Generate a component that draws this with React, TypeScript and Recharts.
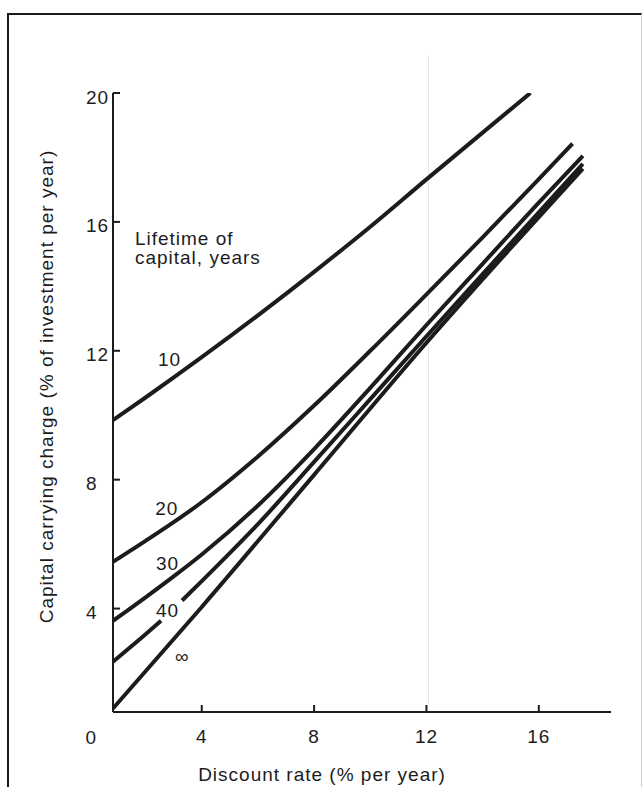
import { LineChart, Line, XAxis, YAxis, ReferenceDot } from "recharts";

const rates10 = [0.84, 2, 4, 6, 8, 10, 12, 14, 15.7];
const charge10 = [9.85, 10.55, 11.8, 13.1, 14.45, 15.85, 17.32, 18.77, 20];

const rates20 = [0.84, 2, 3, 4, 6, 8, 10, 12, 14, 16, 17.2];
const charge20 = [5.45, 6.1, 6.68, 7.3, 8.72, 10.3, 12.0, 13.75, 15.52, 17.33, 18.43];

const rates30 = [0.84, 2, 3, 4, 6, 8, 10, 12, 14, 16, 17.57];
const charge30 = [3.62, 4.35, 5.0, 5.68, 7.2, 8.95, 10.85, 12.8, 14.7, 16.6, 18.05];

// the 40-year curve is broken where its label sits
const rates40 = [0.84, 2, 2.55, 2.9, 3.3, 4, 6, 8, 10, 12, 14, 16, 17.57];
const charge40 = [2.35, 3.2, 3.62, null, 4.25, 4.85, 6.62, 8.55, 10.5, 12.45, 14.38, 16.3, 17.8];

const ratesInf = [0.84, 4, 8, 12, 16, 17.57];
const chargeInf = [0.9, 4.05, 8.15, 12.25, 16.15, 17.65];

const xTicks = [4, 8, 12, 16];
const yTicks = [4, 8, 12, 16, 20];

const curveLabels = [
  { text: "10", rate: 2.44, charge: 11.54 },
  { text: "20", rate: 2.34, charge: 6.9 },
  { text: "30", rate: 2.37, charge: 5.2 },
  { text: "40", rate: 2.37, charge: 3.75 },
];

const noteLines = ["Lifetime of", "capital, years"];

const toSeries = (rates: number[], charges: (number | null)[]) =>
  rates.map((rate, i) => ({ rate, charge: charges[i] }));

const series = [
  { name: "10", data: toSeries(rates10, charge10) },
  { name: "20", data: toSeries(rates20, charge20) },
  { name: "30", data: toSeries(rates30, charge30) },
  { name: "40", data: toSeries(rates40, charge40) },
  { name: "inf", data: toSeries(ratesInf, chargeInf) },
];

const ink = "#1c1c1c";
const font = "'Liberation Sans', Arial, Helvetica, sans-serif";
const textStyle = { fontFamily: font, fontSize: 19, letterSpacing: 1, fill: ink };

function XTick({ x, y, payload }: any) {
  return (
    <text x={x} y={y} dy="0.71em" textAnchor="middle" style={textStyle}>
      {payload.value}
    </text>
  );
}

function YTick({ x, payload }: any) {
  return (
    <text x={x} y={payload.coordinate + 10.5} textAnchor="start" style={textStyle}>
      {payload.value}
    </text>
  );
}

export default function App() {
  return (
    <div
      style={{
        position: "absolute",
        left: 0,
        top: 0,
        width: 643,
        height: 787,
        background: "#fff",
        overflow: "hidden",
      }}
    >
      <div
        style={{
          position: "absolute",
          left: 7,
          top: 13,
          width: 632,
          height: 800,
          borderLeft: `2px solid ${ink}`,
          borderTop: `2px solid ${ink}`,
          borderRight: "1px solid #cfcfcf",
        }}
      />
      <div
        style={{ position: "absolute", left: 428, top: 55, width: 1, height: 650, background: "#e8e8e8" }}
      />
      <div style={{ position: "absolute", left: 0, top: 0 }}>
        <LineChart width={643} height={787} margin={{ top: 93, right: 32, bottom: 35, left: 53 }}>
          <XAxis
            dataKey="rate"
            type="number"
            domain={[0.84, 18.57]}
            ticks={xTicks}
            allowDataOverflow
            height={40}
            axisLine={{ stroke: ink, strokeWidth: 2 }}
            tickLine={{ stroke: ink, strokeWidth: 2 }}
            tickSize={-7}
            tickMargin={25}
            tick={<XTick />}
            label={(p: any) => (
              <text
                x={p.viewBox.x + p.viewBox.width / 2 - 40}
                y={p.viewBox.y + 69}
                textAnchor="middle"
                style={textStyle}
              >
                Discount rate (% per year)
              </text>
            )}
          />
          <YAxis
            type="number"
            domain={[0.79, 20]}
            ticks={yTicks}
            allowDataOverflow
            width={60}
            axisLine={{ stroke: ink, strokeWidth: 2 }}
            tickLine={{ stroke: ink, strokeWidth: 2 }}
            tickSize={-7}
            tickMargin={34}
            tick={<YTick />}
            label={(p: any) => {
              const cx = p.viewBox.x;
              const cy = p.viewBox.y + p.viewBox.height / 2 - 16;
              return (
                <text
                  x={cx}
                  y={cy}
                  textAnchor="middle"
                  transform={`rotate(-90, ${cx}, ${cy})`}
                  style={textStyle}
                >
                  Capital carrying charge (% of investment per year)
                </text>
              );
            }}
          />
          {series.map((s) => (
            <Line
              key={s.name}
              data={s.data}
              dataKey="charge"
              type="monotone"
              stroke={ink}
              strokeWidth={4}
              strokeLinecap="butt"
              dot={false}
              activeDot={false}
              connectNulls={false}
              isAnimationActive={false}
            />
          ))}
          <ReferenceDot
            x={0}
            y={0}
            r={0}
            fill="none"
            stroke="none"
            ifOverflow="visible"
            label={(p: any) => (
              <text x={p.viewBox.x + 2} y={p.viewBox.y + 6.5} textAnchor="middle" style={textStyle}>
                0
              </text>
            )}
          />
          <ReferenceDot
            x={1.62}
            y={15.28}
            r={0}
            fill="none"
            stroke="none"
            ifOverflow="visible"
            label={(p: any) => (
              <g>
                {noteLines.map((line, i) => (
                  <text key={line} x={p.viewBox.x} y={p.viewBox.y + i * 19} style={textStyle}>
                    {line}
                  </text>
                ))}
              </g>
            )}
          />
          {curveLabels.map((c) => (
            <ReferenceDot
              key={c.text}
              x={c.rate}
              y={c.charge}
              r={0}
              fill="none"
              stroke="none"
              ifOverflow="visible"
              label={(p: any) => (
                <text x={p.viewBox.x} y={p.viewBox.y} style={textStyle}>
                  {c.text}
                </text>
              )}
            />
          ))}
          <ReferenceDot
            x={3.31}
            y={2.31}
            r={0}
            fill="none"
            stroke="none"
            ifOverflow="visible"
            label={(p: any) => (
              <text x={p.viewBox.x} y={p.viewBox.y} textAnchor="middle" style={textStyle}>
                ∞
              </text>
            )}
          />
        </LineChart>
      </div>
    </div>
  );
}
